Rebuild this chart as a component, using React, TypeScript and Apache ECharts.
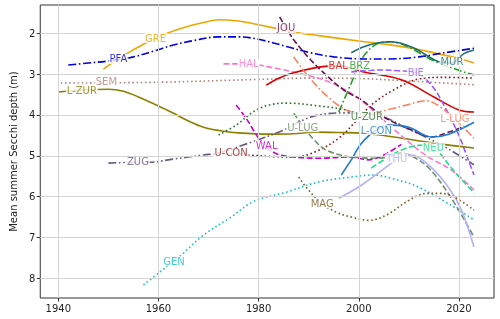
import { useEffect, useRef } from 'react';
import * as echarts from 'echarts';

// Mean summer Secchi depth (m) per lake: [year, depth]
const GRE = [[1949,2.88],[1953,2.55],[1957.5,2.24],[1962,1.99],[1966,1.83],[1969,1.74],[1972,1.67],[1976,1.70],[1979,1.77],[1983,1.87],[1987,1.97],[1992,2.06],[2000,2.19],[2006,2.28],[2012,2.40],[2015,2.48],[2020,2.62],[2023,2.73]];
const PFA = [[1942,2.78],[1946,2.73],[1950,2.68],[1955,2.58],[1959,2.44],[1963,2.29],[1967,2.18],[1972,2.09],[1976,2.09],[1980,2.15],[1986,2.34],[1990,2.47],[1995,2.58],[2001,2.63],[2006,2.63],[2012,2.58],[2017,2.48],[2023,2.37]];
const SEM = [[1940.5,3.22],[1960,3.2],[1980,3.13],[1990,3.1],[2000,3.11],[2010,3.17],[2023,3.26]];
const L_ZUR = [[1940,3.44],[1945,3.39],[1950,3.37],[1953,3.42],[1956,3.56],[1960,3.78],[1963,3.96],[1966,4.15],[1969,4.30],[1973,4.40],[1976,4.44],[1982,4.47],[1987,4.46],[1991,4.42],[1996,4.43],[2001,4.45],[2007,4.54],[2015,4.69],[2023,4.81]];
const ZUG = [[1950,5.18],[1955,5.16],[1958,5.16],[1963,5.08],[1969,4.98],[1972,4.93],[1978,4.69],[1985,4.37],[1989,4.12],[1992,4.0],[1997,3.95],[2001,3.97],[2005,4.05],[2010,4.35],[2014,4.58],[2018,4.84],[2023,5.22]];
const GEN = [[1957,8.16],[1960,7.87],[1963,7.58],[1965,7.38],[1969,6.94],[1974.5,6.5],[1979,6.12],[1985.5,5.89],[1992,5.64],[1998.5,5.52],[2003,5.47],[2006.5,5.55],[2012,5.77],[2018,6.18],[2023,6.57]];
const U_CON = [[1972,4.93],[1978,4.98],[1983,5.02],[1987,5.03],[1991,4.92],[1996,4.57],[2000,4.08],[2002.5,3.76],[2006.5,3.42],[2012,3.12],[2017,3.08],[2023,3.1]];
const HAL = [[1973,2.75],[1978,2.75],[1983,2.85],[1987,2.95],[1994,3.19],[2000,3.6],[2006.5,4.3],[2013.5,5.0],[2018.5,5.35],[2023,5.84]];
const WAL = [[1975.5,3.76],[1977.5,4.08],[1980,4.57],[1982,4.83],[1984,4.97],[1987,5.03],[1992,5.06],[1998.5,5.03],[2002,5.1],[2005,4.98],[2008.5,4.72]];
const U_LUG = [[1987,3.96],[1989,4.3],[1991,4.6],[1993.5,4.86],[1998.5,5.03],[2004,5.06],[2008.5,4.94],[2010.5,5.0],[2014,5.3],[2018.5,6.04],[2023,6.99]];
const JOU = [[1984.2,1.6],[1985.5,1.87],[1987,2.16],[1990,2.6],[1993,2.97],[1997,3.39],[2000.5,3.63],[2005,4.05],[2010.5,4.37],[2014.5,4.54],[2018,4.42],[2021,4.28]];
const BAL = [[1981.5,3.27],[1984,3.1],[1987,2.97],[1992,2.83],[1996,2.8],[2001,2.95],[2008.5,3.14],[2015,3.56],[2020,3.88],[2023,3.93]];
const BRZ = [[1996,3.93],[1998.5,3.22],[2000,2.78],[2001.5,2.48],[2004,2.24],[2006.5,2.21],[2010,2.34],[2014.5,2.65],[2021,2.95],[2023,3.02]];
const MUR = [[1998.5,2.48],[2002,2.29],[2006.5,2.21],[2011,2.36],[2016,2.7],[2018.5,2.73],[2021,2.5],[2023,2.41]];
const BIE = [[1998.5,2.95],[2004,2.9],[2008,2.92],[2011.5,2.97],[2014.5,3.27],[2017,3.76],[2020,4.5],[2021.5,4.98],[2023,5.47]];
const L_LUG = [[1987,2.58],[1990,3.07],[1994.5,3.63],[1998.5,3.93],[2002,3.97],[2005.5,3.88],[2009.5,3.76],[2013.5,3.65],[2016,3.78],[2019,4.08],[2023,4.57]];
const L_CON = [[1996.5,5.47],[1998.5,5.1],[2000.5,4.7],[2003.5,4.37],[2006.5,4.25],[2010,4.3],[2014.5,4.54],[2018,4.47],[2023,4.18]];
const NEU = [[2002.5,5.3],[2005,5.1],[2008.5,4.86],[2012.5,4.74],[2015,4.79],[2016.5,4.98],[2018.5,5.3],[2023,5.91]];
const THU = [[1996,6.04],[2000.5,5.72],[2006,5.23],[2008,5.06],[2010.5,4.98],[2014,5.23],[2018,5.79],[2020.5,6.33],[2023,7.23]];
const MAG = [[1988,5.52],[1989.5,5.77],[1992.5,6.16],[1995.5,6.38],[1998.5,6.5],[2002,6.58],[2005.5,6.45],[2010,6.09],[2013.5,5.92],[2016.5,5.92],[2019.5,6.04],[2023,6.33]];
const U_ZUR = [[1972,4.49],[1975.5,4.25],[1979,3.92],[1982,3.76],[1985.5,3.71],[1992,3.78],[1997.5,3.88],[2001.5,4.05],[2003,4.1]];

// inline label anchor per lake: [year, depth]
const LABEL_AT: Record<string, number[]> = {
  'GRE': [1959.4, 2.12], 'PFA': [1952, 2.63], 'SEM': [1949.6, 3.19], 'L-ZUR': [1944.7, 3.41],
  'ZUG': [1955.9, 5.15], 'GEN': [1963.1, 7.58], 'U-CON': [1974.5, 4.93], 'HAL': [1978, 2.75],
  'WAL': [1981.6, 4.76], 'U-LUG': [1988.8, 4.3], 'JOU': [1985.5, 1.87], 'BAL': [1995.9, 2.8],
  'BRZ': [2000.2, 2.78], 'U-ZUR': [2001.6, 4.05], 'L-CON': [2003.5, 4.37], 'THU': [2007.6, 5.06],
  'MAG': [1992.7, 6.16], 'BIE': [2011.4, 2.97], 'NEU': [2014.9, 4.79], 'MUR': [2018.6, 2.7],
  'L-LUG': [2019.2, 4.08],
};

const X_TICKS = [1940, 1960, 1980, 2000, 2020];
const Y_TICKS = [2, 3, 4, 5, 6, 7, 8];

const SOLID = 'solid';
const DASHED = [6, 2.6];
const DASHDOT = [8, 2.6, 1.6, 2.6];
const DOTTED = [1.6, 2.6];
const DASHDOTDOT = [8, 2.6, 1.6, 2.6, 1.6, 2.6];

const LAKES: { name: string; data: number[][]; color: string; dash: any }[] = [
  { name: 'GRE', data: GRE, color: '#eea500', dash: SOLID },
  { name: 'PFA', data: PFA, color: '#0000dd', dash: DASHDOT },
  { name: 'SEM', data: SEM, color: '#b5837f', dash: DOTTED },
  { name: 'L-ZUR', data: L_ZUR, color: '#8c7e00', dash: SOLID },
  { name: 'ZUG', data: ZUG, color: '#6a5a7c', dash: DASHDOTDOT },
  { name: 'GEN', data: GEN, color: '#17becf', dash: DOTTED },
  { name: 'U-CON', data: U_CON, color: '#8b1414', dash: DOTTED },
  { name: 'HAL', data: HAL, color: '#ff77cc', dash: DASHED },
  { name: 'WAL', data: WAL, color: '#cc00cc', dash: DASHED },
  { name: 'U-LUG', data: U_LUG, color: '#6f8f6f', dash: DASHED },
  { name: 'JOU', data: JOU, color: '#6b1050', dash: DASHED },
  { name: 'BAL', data: BAL, color: '#dd0000', dash: SOLID },
  { name: 'BRZ', data: BRZ, color: '#22a022', dash: DASHDOT },
  { name: 'U-ZUR', data: U_ZUR, color: '#2e7030', dash: DOTTED },
  { name: 'L-CON', data: L_CON, color: '#1a7ad4', dash: SOLID },
  { name: 'THU', data: THU, color: '#b0b0ff', dash: SOLID },
  { name: 'MAG', data: MAG, color: '#7a5c20', dash: DOTTED },
  { name: 'BIE', data: BIE, color: '#9955ff', dash: DASHED },
  { name: 'NEU', data: NEU, color: '#22dd88', dash: DASHED },
  { name: 'MUR', data: MUR, color: '#1f6f6f', dash: SOLID },
  { name: 'L-LUG', data: L_LUG, color: '#ff8060', dash: DASHDOT },
];

const FONT = 'DejaVu Sans';

export default function App() {
  const ref = useRef<HTMLDivElement>(null);
  useEffect(() => {
    if (!ref.current) return;
    const chart = echarts.init(ref.current, null, { renderer: 'svg' });
    const lineSeries = LAKES.map((l) => ({
      type: 'line',
      name: l.name,
      data: l.data,
      smooth: 0.35,
      showSymbol: false,
      symbol: 'none',
      z: 3,
      silent: true,
      lineStyle: { color: l.color, width: 1.6, type: l.dash, cap: 'butt' },
    }));
    const labelSeries = {
      type: 'scatter',
      z: 5,
      silent: true,
      symbolSize: 1,
      itemStyle: { color: 'rgba(0,0,0,0)' },
      labelLayout: { hideOverlap: false },
      data: LAKES.map((l) => ({
        name: l.name,
        value: LABEL_AT[l.name],
        label: {
          show: true,
          position: 'inside',
          formatter: '{b}',
          color: l.color,
          fontFamily: FONT,
          fontSize: 10,
          backgroundColor: '#ffffff',
          padding: [0, 1],
        },
      })),
    };
    const gridSeries = {
      type: 'line',
      data: [],
      z: 1,
      silent: true,
      markLine: {
        silent: true,
        symbol: ['none', 'none'],
        label: { show: false },
        lineStyle: { color: '#d4d4d4', width: 1, type: 'solid' },
        data: [
          ...X_TICKS.map((v) => ({ xAxis: v })),
          ...Y_TICKS.map((v) => ({ yAxis: v })),
        ],
      },
    };
    chart.setOption({
      animation: false,
      grid: { left: 33, right: 6, top: 5, bottom: 21, show: true, borderColor: '#333', borderWidth: 1, backgroundColor: 'transparent' },
      xAxis: {
        type: 'value', min: 1936.4, max: 2027,
        splitLine: { show: false },
        axisLine: { show: false },
        axisTick: { show: true, customValues: X_TICKS, length: 3.5, lineStyle: { color: '#333' } },
        axisLabel: { customValues: X_TICKS, formatter: (v: number) => String(v), fontSize: 10, color: '#222', fontFamily: FONT, margin: 5 },
      },
      yAxis: {
        type: 'value', inverse: true, min: 1.31, max: 8.48,
        splitLine: { show: false },
        axisLine: { show: false },
        axisTick: { show: true, customValues: Y_TICKS, length: 3.5, lineStyle: { color: '#333' } },
        axisLabel: { customValues: Y_TICKS, formatter: (v: number) => String(v), fontSize: 10, color: '#222', fontFamily: FONT, margin: 5 },
        name: 'Mean summer Secchi depth (m)',
        nameLocation: 'middle',
        nameGap: 21,
        nameTextStyle: { fontSize: 10, color: '#222', fontFamily: FONT },
      },
      series: [gridSeries, ...lineSeries, labelSeries],
    });
    return () => chart.dispose();
  }, []);
  return <div ref={ref} style={{ position: 'fixed', left: 0, top: 0, width: 500, height: 319 }} />;
}
